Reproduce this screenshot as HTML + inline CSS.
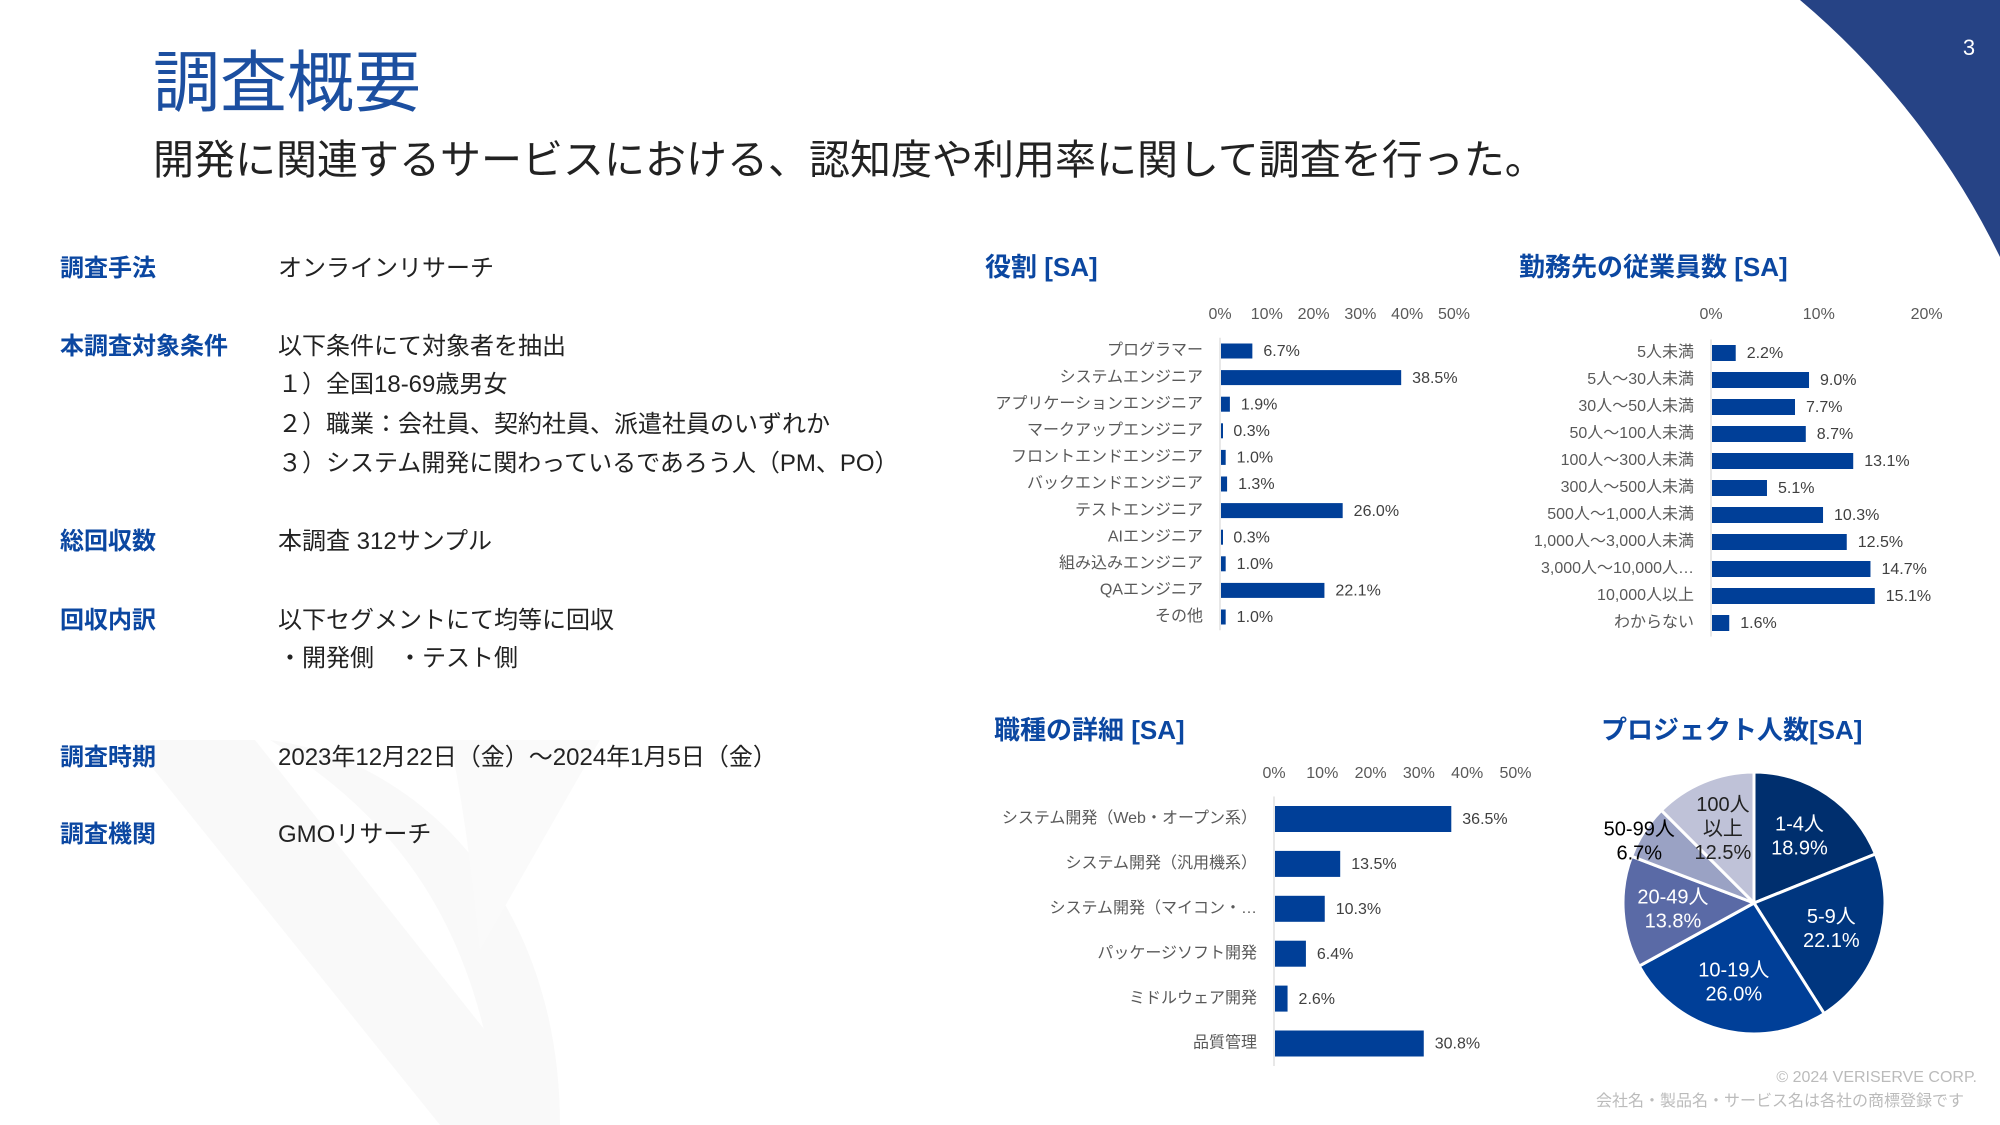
<!DOCTYPE html>
<html><head><meta charset="utf-8">
<style>
body{margin:0;width:2000px;height:1125px;overflow:hidden;background:#fff;font-family:"Liberation Sans","Noto Sans CJK JP",sans-serif;}
#root{position:relative;width:2000px;height:1125px;}
.t{position:absolute;white-space:nowrap;line-height:1;}
.lab{left:60px;font-size:24px;font-weight:bold;color:#0b47a1;transform:translateY(-50%);}
.val{left:278px;font-size:24px;color:#222;transform:translateY(-50%);}
svg text{font-family:"Liberation Sans","Noto Sans CJK JP",sans-serif;}
</style></head>
<body><div id="root">
<svg width="2000" height="1125" style="position:absolute;left:0;top:0">
 <path d="M130 740 L255 740 L560 1125 L440 1125 Z" fill="#f9f9f9"/>
 <path d="M270 740 C420 760 560 900 560 1125 L500 1125 C480 930 400 820 270 740 Z" fill="#f9f9f9"/>
 <path d="M450 740 L600 740 L480 950 C470 850 460 790 450 740 Z" fill="#fafafa"/>
 <path d="M1800 0 A785 785 0 0 1 2000 257 L2000 0 Z" fill="#264385"/>
 <text x="1969" y="55" font-size="22" fill="#fff" text-anchor="middle">3</text>
</svg>
<div class="t" style="left:153px;top:50px;font-size:67px;color:#1c4fa0">調査概要</div>
<div class="t" style="left:153px;top:140px;font-size:41px;color:#222">開発に関連するサービスにおける、認知度や利用率に関して調査を行った。</div>

<div class="t lab" style="top:269px">調査手法</div>
<div class="t val" style="top:269px">オンラインリサーチ</div>
<div class="t lab" style="top:347px">本調査対象条件</div>
<div class="t val" style="top:347px">以下条件にて対象者を抽出</div>
<div class="t val" style="top:385px">１）全国18-69歳男女</div>
<div class="t val" style="top:425px">２）職業：会社員、契約社員、派遣社員のいずれか</div>
<div class="t val" style="top:464px">３）システム開発に関わっているであろう人（PM、PO）</div>
<div class="t lab" style="top:542px">総回収数</div>
<div class="t val" style="top:542px">本調査 312サンプル</div>
<div class="t lab" style="top:621px">回収内訳</div>
<div class="t val" style="top:621px">以下セグメントにて均等に回収</div>
<div class="t val" style="top:659px">・開発側　・テスト側</div>
<div class="t lab" style="top:758px">調査時期</div>
<div class="t val" style="top:758px">2023年12月22日（金）～2024年1月5日（金）</div>
<div class="t lab" style="top:835px">調査機関</div>
<div class="t val" style="top:835px">GMOリサーチ</div>

<svg id="charts" width="2000" height="1125" style="position:absolute;left:0;top:0"></svg>

<div class="t" style="right:23px;top:1070px;font-size:16px;color:#bbb">© 2024  VERISERVE CORP.</div>
<div class="t" style="right:36px;top:1094px;font-size:16px;color:#bbb">会社名・製品名・サービス名は各社の商標登録です</div>
</div>
<script>
const roleCats=["プログラマー","システムエンジニア","アプリケーションエンジニア","マークアップエンジニア","フロントエンドエンジニア","バックエンドエンジニア","テストエンジニア","AIエンジニア","組み込みエンジニア","QAエンジニア","その他"];
const roleVals=[6.7,38.5,1.9,0.3,1.0,1.3,26.0,0.3,1.0,22.1,1.0];
const roleTicks=[0,10,20,30,40,50];
const empCats=["5人未満","5人～30人未満","30人～50人未満","50人～100人未満","100人～300人未満","300人～500人未満","500人～1,000人未満","1,000人～3,000人未満","3,000人～10,000人…","10,000人以上","わからない"];
const empVals=[2.2,9.0,7.7,8.7,13.1,5.1,10.3,12.5,14.7,15.1,1.6];
const empTicks=[0,10,20];
const jobCats=["システム開発（Web・オープン系）","システム開発（汎用機系）","システム開発（マイコン・…","パッケージソフト開発","ミドルウェア開発","品質管理"];
const jobVals=[36.5,13.5,10.3,6.4,2.6,30.8];
const jobTicks=[0,10,20,30,40,50];
const pieCats=["1-4人","5-9人","10-19人","20-49人","50-99人","100人以上"];
const pieVals=[18.9,22.1,26.0,13.8,6.7,12.5];
const pieColors=["#002f6e","#00367f","#003f98","#5a6aa6","#9aa2c4","#bfc2d8"];

const svg=document.getElementById('charts');
const NS="http://www.w3.org/2000/svg";
function mk(tag,attrs,parent){const e=document.createElementNS(NS,tag);for(const k in attrs)e.setAttribute(k,attrs[k]);(parent||svg).appendChild(e);return e;}

function barChart(o){
  const g=mk('g',{});
  
  
  const x=v=>o.x0+v*o.unit;
  const y=i=>o.y0+i*o.step;
  const t=mk('text',{x:o.tx,y:o.ty,'font-size':26,'font-weight':'bold',fill:'#0b47a1','dominant-baseline':'middle'},g);
  t.textContent=o.title;
  
  
  o.ticks.forEach(v=>{const e=mk('text',{x:x(v),y:o.tickY,'font-size':16,fill:'#595959','text-anchor':'middle','dominant-baseline':'middle'},g);e.textContent=v+'%';
    
    });
  const ax=mk('line',{x1:o.x0,x2:o.x0,y1:y(0)-o.step/2,y2:y(o.cats.length-1)+o.step/2,stroke:'#e0e0e0','stroke-width':1.5},g);
  
  
  o.cats.forEach((c,i)=>{
    const l=mk('text',{x:o.x0-17,y:y(i),'font-size':16,fill:'#595959','text-anchor':'end','dominant-baseline':'middle'},g);l.textContent=c;
    
    
    const v=o.vals[i];
    const r=mk('rect',{x:o.x0+1,y:y(i)-o.bh/2,width:Math.max(v*o.unit,2),height:o.bh,fill:'#003f98'},g);
    
    
    const vl=mk('text',{x:x(v)+12,y:y(i)+1,'font-size':16,fill:'#404040','dominant-baseline':'middle'},g);vl.textContent=v.toFixed(1)+'%';
    
    
  });
}
barChart({name:'role-chart',title:'役割 [SA]',tx:985,ty:269,cats:roleCats,vals:roleVals,ticks:roleTicks,x0:1220,unit:4.68,y0:351,step:26.6,bh:15,tickY:315});
barChart({name:'employee-chart',title:'勤務先の従業員数 [SA]',tx:1519,ty:269,cats:empCats,vals:empVals,ticks:empTicks,x0:1711,unit:10.78,y0:353,step:27.0,bh:16,tickY:315});
barChart({name:'job-chart',title:'職種の詳細 [SA]',tx:994,ty:732,cats:jobCats,vals:jobVals,ticks:jobTicks,x0:1274,unit:4.83,y0:819,step:44.9,bh:26,tickY:774});

const pg=mk('g',{});


const pt=mk('text',{x:1601,y:732,'font-size':26,'font-weight':'bold',fill:'#0b47a1','dominant-baseline':'middle'},pg);
pt.textContent='プロジェクト人数[SA]';


const cx=1754,cy=903,R=131;
const total=pieVals.reduce((a,b)=>a+b,0);
let a0=-Math.PI/2;
pieVals.forEach((v,i)=>{
  const a1=a0+v/total*2*Math.PI;
  const large=(a1-a0)>Math.PI?1:0;
  const p=mk('path',{d:`M${cx} ${cy} L${cx+R*Math.cos(a0)} ${cy+R*Math.sin(a0)} A${R} ${R} 0 ${large} 1 ${cx+R*Math.cos(a1)} ${cy+R*Math.sin(a1)} Z`,fill:pieColors[i],stroke:'#fff','stroke-width':3},pg);
  
  
  const am=(a0+a1)/2;
  const lr=i===4?R*0.88:R*0.62;
  const lx=cx+lr*Math.cos(am)+(i===4?-18:0), ly=cy+lr*Math.sin(am);
  const col=i===4?'#000':(i===5?'#222':'#fff');
  const lines=i===5?['100人','以上',v.toFixed(1)+'%']:[pieCats[i],v.toFixed(1)+'%'];
  const tx=mk('text',{x:lx,y:ly,'font-size':20,fill:col,'text-anchor':'middle'},pg);
  
  
  lines.forEach((s,k)=>{const ts=mk('tspan',{x:lx,y:ly+(k-(lines.length-1)/2)*24+7},tx);ts.textContent=s;});
  a0=a1;
});
</script>
</body></html>
